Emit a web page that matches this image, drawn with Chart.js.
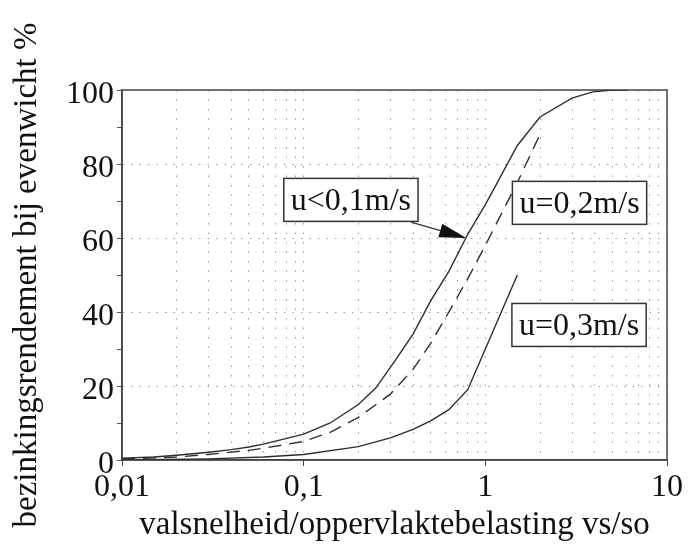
<!DOCTYPE html>
<html>
<head>
<meta charset="utf-8">
<script src="https://cdn.jsdelivr.net/npm/chart.js@4.4.0/dist/chart.umd.min.js"></script>
<style>
    html, body { margin: 0; padding: 0; background: #fff; }
    #wrap { width: 689px; height: 554px; }
</style>
</head>
<body>
<div id="wrap"><canvas id="chart" width="689" height="554"></canvas></div>
<script>
// vs/so (log axis) against settling efficiency in %
const xU01 = [0.01, 0.015, 0.02, 0.03, 0.04, 0.05, 0.06, 0.07, 0.1, 0.14, 0.2, 0.25, 0.32, 0.4, 0.5, 0.63, 0.8, 1.0, 1.15, 1.5, 2.0, 3.0, 3.9, 5.0, 6.0];
const yU01 = [0.5, 0.8, 1.3, 2.1, 2.8, 3.5, 4.3, 5.1, 7, 10, 15, 19.5, 27, 34, 43, 51, 61, 69, 74.5, 85, 92.7, 97.8, 99.5, 100, 100];

const xU02 = [0.01, 0.02, 0.03, 0.05, 0.06, 0.1, 0.14, 0.2, 0.3, 0.4, 0.5, 0.63, 0.8, 1.0, 1.5, 2.0];
const yU02 = [0.3, 0.8, 1.5, 2.6, 3.2, 5, 7.5, 11.5, 17.8, 24.5, 31.5, 40, 49, 58, 75, 88];

const xU03 = [0.01, 0.03, 0.06, 0.1, 0.2, 0.3, 0.4, 0.5, 0.63, 0.8, 1.0, 1.5];
const yU03 = [0, 0.3, 0.8, 1.5, 3.6, 6, 8.3, 10.6, 13.6, 19, 30, 50];

const curveLabels = ["u<0,1m/s", "u=0,2m/s", "u=0,3m/s"];

const xTickValues = [0.01, 0.1, 1, 10];
const xTickLabels = ["0,01", "0,1", "1", "10"];
const yTickValues = [0, 20, 40, 60, 80, 100];
const yTickLabels = ["0", "20", "40", "60", "80", "100"];

// where the boxed labels and the arrow sit, in data units
const labelBoxes = [
    { text: curveLabels[0], x: 0.182, y: 70.3 },
    { text: curveLabels[1], x: 3.3, y: 69.5 },
    { text: curveLabels[2], x: 3.28, y: 36.5 }
];
const arrow = { from: { x: 0.39, y: 64.3 }, to: { x: 0.785, y: 60 } };

const serif = '"Liberation Serif", "DejaVu Serif", serif';
const ink = "#111";

function toPoints(xs, ys) {
    return xs.map(function (v, i) { return { x: v, y: ys[i] }; });
}

function isDecade(v) {
    const l = Math.log10(v);
    return Math.abs(l - Math.round(l)) < 1e-6;
}

// box round the plot area
const frame = {
    id: "frame",
    beforeDatasetsDraw(chart) {
        const a = chart.chartArea;
        const ctx = chart.ctx;
        ctx.save();
        ctx.strokeStyle = "#444";
        ctx.lineWidth = 1.5;
        ctx.strokeRect(a.left, a.top, a.right - a.left, a.bottom - a.top);
        ctx.restore();
    }
};

// boxed curve names and the arrow
const annotate = {
    id: "annotate",
    afterDatasetsDraw(chart) {
        const ctx = chart.ctx;
        const sx = chart.scales.x, sy = chart.scales.y;
        ctx.save();

        const x1 = sx.getPixelForValue(arrow.from.x), y1 = sy.getPixelForValue(arrow.from.y);
        const x2 = sx.getPixelForValue(arrow.to.x), y2 = sy.getPixelForValue(arrow.to.y);
        const ang = Math.atan2(y2 - y1, x2 - x1);
        const c = Math.cos(ang), s = Math.sin(ang);
        const headLen = 27, headW = 7;
        ctx.strokeStyle = "#333";
        ctx.lineWidth = 1.3;
        ctx.beginPath();
        ctx.moveTo(x1, y1);
        ctx.lineTo(x2 - headLen * c, y2 - headLen * s);
        ctx.stroke();
        ctx.fillStyle = ink;
        ctx.beginPath();
        ctx.moveTo(x2, y2);
        ctx.lineTo(x2 - headLen * c + headW * s, y2 - headLen * s - headW * c);
        ctx.lineTo(x2 - headLen * c - headW * s, y2 - headLen * s + headW * c);
        ctx.closePath();
        ctx.fill();

        ctx.font = "32px " + serif;
        ctx.textAlign = "center";
        ctx.textBaseline = "middle";
        labelBoxes.forEach(function (b) {
            const cx = sx.getPixelForValue(b.x), cy = sy.getPixelForValue(b.y);
            const w = ctx.measureText(b.text).width + 14, h = 43;
            ctx.fillStyle = "#fff";
            ctx.fillRect(cx - w / 2, cy - h / 2, w, h);
            ctx.strokeStyle = "#333";
            ctx.lineWidth = 1.5;
            ctx.strokeRect(cx - w / 2, cy - h / 2, w, h);
            ctx.fillStyle = ink;
            ctx.fillText(b.text, cx, cy + 2);
        });
        ctx.restore();
    }
};

const lineStyle = {
    borderColor: "#2e2e2e",
    borderWidth: 1.4,
    pointRadius: 0,
    tension: 0,
    fill: false
};

new Chart(document.getElementById("chart"), {
    type: "line",
    data: {
        datasets: [
            Object.assign({ label: curveLabels[0], data: toPoints(xU01, yU01) }, lineStyle),
            Object.assign({ label: curveLabels[1], data: toPoints(xU02, yU02), borderDash: [13, 8] }, lineStyle),
            Object.assign({ label: curveLabels[2], data: toPoints(xU03, yU03) }, lineStyle)
        ]
    },
    options: {
        responsive: false,
        animation: false,
        devicePixelRatio: 1,
        layout: { padding: { top: 90, right: 22, bottom: 0, left: 0 } },
        plugins: { legend: { display: false }, tooltip: { enabled: false } },
        scales: {
            x: {
                type: "logarithmic",
                min: 0.01,
                max: 10,
                afterBuildTicks: function (scale) {
                    // keep 1..9 per decade, drop the 1.5 steps
                    scale.ticks = scale.ticks.filter(function (t) {
                        const r = t.value / Math.pow(10, Math.floor(Math.log10(t.value) + 1e-9));
                        return Math.abs(r - Math.round(r)) < 1e-6;
                    });
                },
                afterFit: function (scale) { scale.height = 94; },
                ticks: {
                    autoSkip: false,
                    maxRotation: 0,
                    minRotation: 0,
                    padding: 2,
                    color: ink,
                    font: { family: serif, size: 32 },
                    callback: function (value) {
                        const i = xTickValues.findIndex(function (v) { return Math.abs(v - value) < v * 1e-6; });
                        return i >= 0 ? xTickLabels[i] : "";
                    }
                },
                grid: {
                    color: "#9a9a9a",
                    lineWidth: 1,
                    tickLength: 6,
                    tickColor: function (ctx) {
                        return ctx.tick && isDecade(ctx.tick.value) ? "#444" : "rgba(0,0,0,0)";
                    }
                },
                border: { color: "#444", width: 1.5, dash: [1.5, 8] },
                title: {
                    display: true,
                    text: "valsnelheid/oppervlaktebelasting vs/so",
                    color: ink,
                    font: { family: serif, size: 33 },
                    padding: { top: 0, bottom: 9 }
                }
            },
            y: {
                min: 0,
                max: 100,
                afterFit: function (scale) { scale.width = 122; },
                ticks: {
                    stepSize: 10,
                    autoSkip: false,
                    padding: 3,
                    labelOffset: 5,
                    color: ink,
                    font: { family: serif, size: 32 },
                    callback: function (value) {
                        const i = yTickValues.indexOf(value);
                        return i >= 0 ? yTickLabels[i] : "";
                    }
                },
                grid: {
                    color: function (ctx) {
                        const v = ctx.tick ? ctx.tick.value : -1;
                        return v % 20 === 0 && v > 0 && v < 100 ? "#9a9a9a" : "rgba(0,0,0,0)";
                    },
                    lineWidth: 1,
                    tickLength: 5,
                    tickColor: "#555"
                },
                border: { color: "#444", width: 1.5, dash: [1.5, 7] },
                title: {
                    display: true,
                    text: "bezinkingsrendement bij evenwicht %",
                    color: ink,
                    font: { family: serif, size: 33 },
                    padding: { top: 8, bottom: 0 }
                }
            }
        }
    },
    plugins: [frame, annotate]
});
</script>
</body>
</html>
